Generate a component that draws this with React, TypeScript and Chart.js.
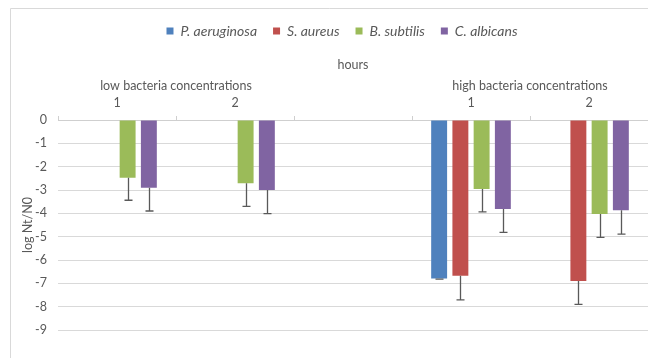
import React, { useEffect, useRef } from "react";
import { Chart, registerables } from "chart.js";

Chart.register(...registerables);

const categories = ["1", "2", "", "1", "2"];
const groupLabels = ["low bacteria concentrations", "high bacteria concentrations"];
const groupRanges = [
  [0, 1],
  [3, 4],
];
const seriesNames = ["P. aeruginosa", "S. aureus", "B. subtilis", "C. albicans"];
const seriesColors = ["#4F81BD", "#C0504D", "#9BBB59", "#8064A2"];

const pAeruginosa = [null, null, null, -6.79, null];
const sAureus = [null, null, null, -6.68, -6.9];
const bSubtilis = [-2.47, -2.71, null, -2.96, -4.03];
const cAlbicans = [-2.9, -3.0, null, -3.81, -3.87];

const pAeruginosaErr = [0, 0, 0, 0.03, 0];
const sAureusErr = [0, 0, 0, 1.03, 1.0];
const bSubtilisErr = [0.97, 0.99, 0, 0.98, 1.0];
const cAlbicansErr = [1.0, 1.01, 0, 1.01, 1.02];

const yTicks = [0, -1, -2, -3, -4, -5, -6, -7, -8, -9];

const seriesValues = [pAeruginosa, sAureus, bSubtilis, cAlbicans];
const seriesErrors = [pAeruginosaErr, sAureusErr, bSubtilisErr, cAlbicansErr];

const TEXT = "#595959";
const FONT = "Lato";
const LEGEND_SHIFT = 12;

const framePlugin = {
  id: "frame",
  afterLayout(chart: any) {
    if (chart.legend) {
      chart.legend.left += LEGEND_SHIFT;
      chart.legend.right += LEGEND_SHIFT;
    }
  },
  beforeDraw(chart: any) {
    const ctx = chart.ctx;
    ctx.save();
    ctx.strokeStyle = "#d9d9d9";
    ctx.lineWidth = 1;
    ctx.beginPath();
    ctx.moveTo(2.5, chart.height);
    ctx.lineTo(2.5, 0.5);
    ctx.lineTo(chart.width, 0.5);
    ctx.stroke();
    ctx.restore();
  },
};

const groupLabelPlugin = {
  id: "groupLabels",
  afterDraw(chart: any) {
    const ctx = chart.ctx;
    const x = chart.scales.x;
    ctx.save();
    ctx.fillStyle = TEXT;
    ctx.font = `12.5px ${FONT}`;
    ctx.textAlign = "center";
    ctx.textBaseline = "middle";
    groupLabels.forEach((label, i) => {
      const [a, b] = groupRanges[i];
      const cx = (x.getPixelForValue(a) + x.getPixelForValue(b)) / 2;
      ctx.fillText(label, cx, chart.chartArea.top - 34);
    });
    ctx.restore();
  },
};

const errorBarPlugin = {
  id: "errorBars",
  afterDatasetsDraw(chart: any) {
    const ctx = chart.ctx;
    const y = chart.scales.y;
    ctx.save();
    ctx.strokeStyle = "#595959";
    ctx.lineWidth = 1.3;
    chart.data.datasets.forEach((ds: any, di: number) => {
      const meta = chart.getDatasetMeta(di);
      ds.data.forEach((v: number | null, i: number) => {
        if (v === null) return;
        const err = seriesErrors[di][i];
        const bar = meta.data[i];
        if (!bar) return;
        const x0 = Math.round(bar.x) + 0.5;
        const yTop = y.getPixelForValue(v);
        const yBot = y.getPixelForValue(v - err);
        ctx.beginPath();
        ctx.moveTo(x0, yTop);
        ctx.lineTo(x0, yBot);
        ctx.moveTo(x0 - 4, yBot);
        ctx.lineTo(x0 + 4, yBot);
        ctx.stroke();
      });
    });
    ctx.restore();
  },
};

export default function App() {
  const ref = useRef<HTMLCanvasElement | null>(null);

  useEffect(() => {
    if (!ref.current) return;
    const chart = new Chart(ref.current, {
      type: "bar",
      data: {
        labels: categories,
        datasets: seriesNames.map((name, i) => ({
          label: name,
          data: seriesValues[i],
          backgroundColor: seriesColors[i],
          borderWidth: 0,
          categoryPercentage: 0.72,
          barPercentage: 0.75,
        })),
      },
      options: {
        animation: false,
        responsive: false,
        maintainAspectRatio: false,
        events: [],
        layout: { padding: { left: 4, right: 0, top: 0, bottom: 28 } },
        plugins: {
          legend: {
            position: "top",
            labels: {
              boxWidth: 7,
              boxHeight: 7,
              padding: 16,
              color: TEXT,
              font: { family: FONT, size: 14, style: "italic" },
            },
          },
          tooltip: { enabled: false },
        },
        scales: {
          x: {
            position: "top",
            offset: true,
            grid: {
              offset: true,
              drawOnChartArea: false,
              drawTicks: true,
              tickLength: 4,
              color: "#cfcfcf",
            },
            border: { color: "#cfcfcf" },
            ticks: {
              color: TEXT,
              font: { family: FONT, size: 12.5 },
              padding: 6,
              maxRotation: 0,
              autoSkip: false,
            },
            title: {
              display: true,
              text: "hours",
              color: TEXT,
              font: { family: FONT, size: 12.5 },
              padding: { top: 9, bottom: 0 },
            },
            afterFit(scale: any) {
              scale.height = 72;
            },
          },
          y: {
            min: -9,
            max: 0,
            afterBuildTicks(scale: any) {
              scale.ticks = yTicks.map((v) => ({ value: v }));
            },
            grid: { color: "#d9d9d9", drawTicks: false },
            border: { display: false },
            ticks: {
              color: TEXT,
              font: { family: FONT, size: 12.5 },
              padding: 11,
            },
            title: {
              display: true,
              text: "log Nt/N0",
              color: TEXT,
              font: { family: FONT, size: 12.5 },
              padding: { top: 8, bottom: 0 },
            },
            afterFit(scale: any) {
              scale.width = 46;
            },
          },
        },
      },
      plugins: [framePlugin, groupLabelPlugin, errorBarPlugin],
    });
    return () => chart.destroy();
  }, []);

  return (
    <div style={{ width: 640, height: 350 }}>
      <canvas ref={ref} width={640} height={350} style={{ display: "block" }} />
    </div>
  );
}
